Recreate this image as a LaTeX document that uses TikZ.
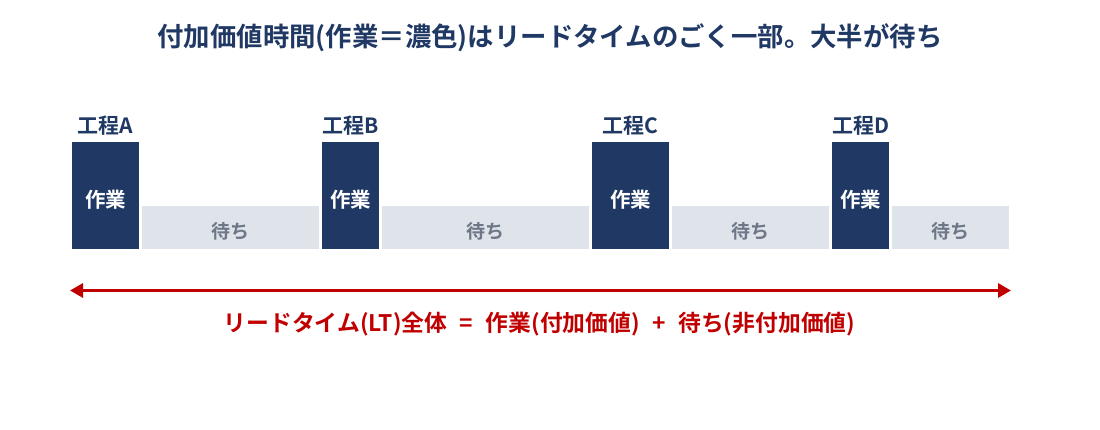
\documentclass[tikz,border=0pt]{standalone}
\usepackage{fontspec}
\setmainfont{Noto Sans CJK JP}[BoldFont={* Bold}]
\usepackage{xcolor}
\usepackage{tikz}
\usetikzlibrary{arrows.meta}

\definecolor{navy}{HTML}{1F3864}
\definecolor{waitbg}{HTML}{DFE4EB}
\definecolor{waitfg}{HTML}{6E7787}
\definecolor{ltred}{HTML}{C00000}

\begin{document}
\begin{tikzpicture}[x=1pt, y=-1pt, font=\bfseries,
    work/.style={fill=navy, text=white, inner sep=0pt, minimum height=107pt, text height=26.5pt, text depth=2.5pt, font=\bfseries\fontsize{20.5}{20.5}\selectfont},
    wait/.style={fill=waitbg, text=waitfg, inner sep=0pt, minimum height=43pt, text height=24.5pt, text depth=2.3pt, font=\bfseries\fontsize{19}{19}\selectfont},
    proc/.style={text=navy, inner sep=0pt, font=\bfseries\fontsize{21}{21}\selectfont}]
        \useasboundingbox (0,0) rectangle (1100,430);

        % title
        \node[text=navy, font=\bfseries\fontsize{26.4}{26.4}\selectfont] (title) at (550,38) {付加価値時間(作業＝濃色)はリードタイムのごく一部。大半が待ち};

        % 工程A
        \node[work, minimum width=67pt] (wA) at (105.5,195.5) {作業};
        \node[wait, minimum width=177pt] (qA) at (230.5,227.5) {待ち};
        \node[proc] (pA) at (105.5,126) {工程A};

        % 工程B
        \node[work, minimum width=57pt] (wB) at (350.5,195.5) {作業};
        \node[wait, minimum width=207pt] (qB) at (485.5,227.5) {待ち};
        \node[proc] (pB) at (350.5,126) {工程B};

        % 工程C
        \node[work, minimum width=77pt] (wC) at (630.5,195.5) {作業};
        \node[wait, minimum width=157pt] (qC) at (750.5,227.5) {待ち};
        \node[proc] (pC) at (630.5,126) {工程C};

        % 工程D
        \node[work, minimum width=57pt] (wD) at (860.5,195.5) {作業};
        \node[wait, minimum width=117pt] (qD) at (950.5,227.5) {待ち};
        \node[proc] (pD) at (860.5,126) {工程D};

        % lead time
        \coordinate (ltL) at (70,290.5);
        \coordinate (ltR) at (1011,290.5);
        \draw[ltred, line width=3pt, {Triangle[length=13pt, width=14pt]}-{Triangle[length=13pt, width=14pt]}] (ltL) -- (ltR);
        \node[text=ltred, font=\bfseries\fontsize{22.8}{22.8}\selectfont] (lt) at (539.5,324) {リードタイム(LT)全体\hspace{0.55em}=\hspace{0.55em}作業(付加価値)\hspace{0.55em}+\hspace{0.55em}待ち(非付加価値)};

    \end{tikzpicture}
\end{document}
